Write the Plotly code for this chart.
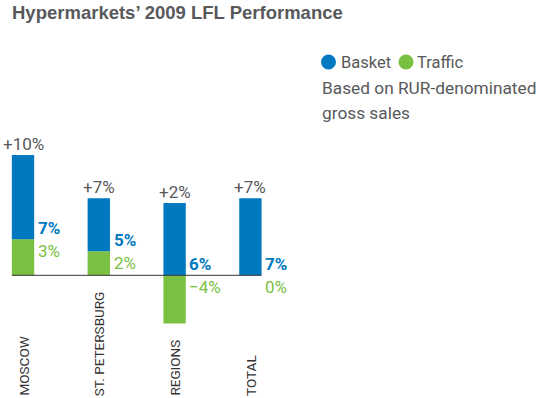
import plotly.graph_objects as go

# ---- data ----
categories = ["MOSCOW", "ST. PETERSBURG", "REGIONS", "TOTAL"]
traffic = [3.0, 2.0, -4.0, 0.0]          # green bar heights (%)
basket = [7.0, 4.4, 6.0, 6.4]            # blue bar heights (%)
total_labels = ["+10%", "+7%", "+2%", "+7%"]
basket_labels = ["7%", "5%", "6%", "7%"]
traffic_labels = ["3%", "2%", "\u22124%", "0%"]

W, H = 539, 398
BLUE = "#0079C1"
GREEN = "#7AC143"
GRAY = "#58595B"
FONT = "Roboto, sans-serif"

x = list(range(len(categories)))

fig = go.Figure()
fig.add_trace(go.Bar(x=x, y=traffic, marker=dict(color=GREEN, line=dict(width=0)),
                     width=0.295, name="Traffic", hoverinfo="skip"))
fig.add_trace(go.Bar(x=x, y=basket, marker=dict(color=BLUE, line=dict(width=0)),
                     width=0.295, name="Basket", hoverinfo="skip"))

px_per_unit_x = 75.8
x0 = -23 / px_per_unit_x
x1 = x0 + W / px_per_unit_x
px_per_pct = 12.03
zero_px = 275.3
y1 = zero_px / px_per_pct
y0 = -(H - zero_px) / px_per_pct

ann = []
for i in x:
    pos = [v for v in (traffic[i], basket[i]) if v > 0]
    top = sum(pos)
    boundary = traffic[i] if traffic[i] > 0 else 0
    ann.append(dict(x=i, y=top, xref="x", yref="y", text=total_labels[i], showarrow=False,
                    xanchor="center", yanchor="bottom", yshift=-1,
                    font=dict(family=FONT, size=17, color=GRAY)))
    ann.append(dict(x=i + 0.17, y=boundary, xref="x", yref="y", text="<b>" + basket_labels[i] + "</b>",
                    showarrow=False, xanchor="left", yanchor="bottom", yshift=-1,
                    font=dict(family=FONT, size=17, color=BLUE)))
    ann.append(dict(x=i + 0.17, y=boundary, xref="x", yref="y", text=traffic_labels[i],
                    showarrow=False, xanchor="left", yanchor="top", yshift=0,
                    font=dict(family=FONT, size=17, color=GREEN)))
    ann.append(dict(x=i, y=0, xref="paper" if False else "x", yref="paper", text=categories[i],
                    showarrow=False, textangle=-90, xanchor="center", yanchor="bottom", yshift=0,
                    font=dict(family=FONT, size=13.5, color="#333333")))

def py(p):
    return 1 - p / H

ann.append(dict(x=10 / W, y=py(12), xref="paper", yref="paper",
                text="<b>Hypermarkets\u2019 2009 LFL Performance</b>", showarrow=False,
                xanchor="left", yanchor="middle",
                font=dict(family="Liberation Sans, Arial, sans-serif", size=18.5, color=GRAY)))
ann.append(dict(x=339 / W, y=py(62), xref="paper", yref="paper", text="Basket", showarrow=False,
                xanchor="left", yanchor="middle", font=dict(family=FONT, size=16.5, color=GRAY)))
ann.append(dict(x=415 / W, y=py(62), xref="paper", yref="paper", text="Traffic", showarrow=False,
                xanchor="left", yanchor="middle", font=dict(family=FONT, size=16.5, color=GRAY)))
ann.append(dict(x=320 / W, y=py(88), xref="paper", yref="paper", text="Based on RUR-denominated",
                showarrow=False, xanchor="left", yanchor="middle",
                font=dict(family=FONT, size=17.3, color=GRAY)))
ann.append(dict(x=320 / W, y=py(113), xref="paper", yref="paper", text="gross sales",
                showarrow=False, xanchor="left", yanchor="middle",
                font=dict(family=FONT, size=17.3, color=GRAY)))

shapes = [
    dict(type="line", xref="x", yref="y", x0=-0.1475, x1=3.1475, y0=0, y1=0,
         line=dict(color="#333333", width=1)),
    dict(type="circle", xref="paper", yref="paper", x0=321 / W, x1=336 / W, y0=py(69.5), y1=py(54.5),
         fillcolor=BLUE, line=dict(width=0)),
    dict(type="circle", xref="paper", yref="paper", x0=398.5 / W, x1=413.5 / W, y0=py(69.5), y1=py(54.5),
         fillcolor=GREEN, line=dict(width=0)),
]

fig.update_layout(
    width=W, height=H, margin=dict(l=0, r=0, t=0, b=0),
    paper_bgcolor="white", plot_bgcolor="white",
    barmode="relative", showlegend=False,
    xaxis=dict(range=[x0, x1], visible=False, fixedrange=True),
    yaxis=dict(range=[y0, y1], visible=False, fixedrange=True),
    annotations=ann, shapes=shapes,
)

fig.write_html("out.html", config={"displayModeBar": False},
               post_script="document.body.style.margin='0';document.body.style.overflow='hidden';")
